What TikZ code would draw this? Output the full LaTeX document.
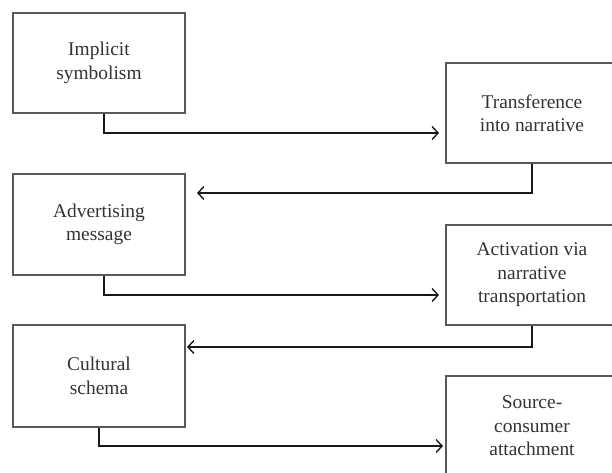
\documentclass[tikz,border=0pt]{standalone}
\usepackage{fontspec}
\setmainfont{Liberation Serif}
\usetikzlibrary{arrows.meta}
\begin{document}
\begin{tikzpicture}[x=1bp,y=-1bp,
  box/.style={draw=black!65, line width=1.6bp, fill=white, minimum width=172bp, minimum height=100bp,
    inner sep=0pt, align=center, text=black!80, font={\fontsize{19.5}{23.5}\selectfont}},
  conn/.style={draw=black!90, line width=1.4bp, -{Straight Barb[length=6bp,width=13bp,line width=1.4bp]}}]
\useasboundingbox (0,0) rectangle (612,473);
\clip (0,0) rectangle (612,473);
\fill[white] (0,0) rectangle (612,473);
\node[box] (b1) at (99,63) {Implicit\\symbolism};
\node[box] (b2) at (532,113) {Transference\\into narrative};
\node[box, minimum height=101bp] (b3) at (99,224.5) {Advertising\\message};
\node[box] (b4) at (532,275) {Activation via\\narrative\\transportation};
\node[box, minimum height=102bp] (b5) at (99,376) {Cultural\\schema};
\node[box] (b6) at (532,426) {Source-\\consumer\\attachment};
\coordinate (e1) at (439,133);
\coordinate (e2) at (197,193);
\coordinate (e3) at (439,295);
\coordinate (e4) at (187,347);
\coordinate (e5) at (443,446);
\draw[conn] ([xshift=5bp]b1.south) |- (e1);
\draw[conn] (b2.south) |- (e2);
\draw[conn] ([xshift=5bp]b3.south) |- (e3);
\draw[conn] (b4.south) |- (e4);
\draw[conn] (b5.south) |- (e5);
\end{tikzpicture}
\end{document}
